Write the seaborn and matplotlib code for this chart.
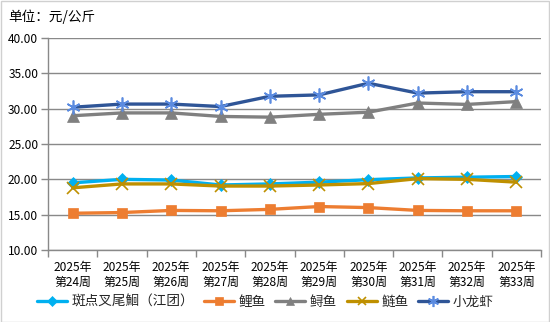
import matplotlib
matplotlib.use("Agg")
import matplotlib.pyplot as plt
import seaborn as sns
import pandas as pd
from matplotlib.patches import Rectangle

weeks = ["2025年\n第24周", "2025年\n第25周", "2025年\n第26周", "2025年\n第27周", "2025年\n第28周",
         "2025年\n第29周", "2025年\n第30周", "2025年\n第31周", "2025年\n第32周", "2025年\n第33周"]
s_channel = [19.5, 20.0, 19.9, 19.2, 19.35, 19.6, 19.95, 20.2, 20.3, 20.4]
s_carp = [15.2, 15.3, 15.6, 15.55, 15.75, 16.15, 16.0, 15.6, 15.55, 15.55]
s_sturgeon = [29.0, 29.4, 29.4, 28.9, 28.8, 29.2, 29.5, 30.8, 30.6, 31.0]
s_silver = [18.8, 19.35, 19.35, 19.05, 19.05, 19.2, 19.4, 20.1, 20.0, 19.6]
s_crayfish = [30.2, 30.65, 30.65, 30.3, 31.75, 31.95, 33.6, 32.2, 32.4, 32.4]

names = ["斑点叉尾鮰（江团）", "鲤鱼", "鲟鱼", "鲢鱼", "小龙虾"]
series = [s_channel, s_carp, s_sturgeon, s_silver, s_crayfish]
line_colors = ["#00B0F0", "#ED7D31", "#808080", "#BF9000", "#2F5597"]
marker_colors = ["#00B0F0", "#ED7D31", "#808080", "#BF9000", "#5B8BE0"]
markers = ["D", "s", "^", "x", (6, 2, 0)]
msizes = [6, 7, 8, 8, 10]

rows = []
for n, vals in zip(names, series):
    for i, v in enumerate(vals):
        rows.append({"周": i, "价格": v, "品种": n})
df = pd.DataFrame(rows)

sns.set_theme(style="white")
plt.rcParams["font.family"] = ["Noto Sans CJK SC", "DejaVu Sans"]

fig = plt.figure(figsize=(5.5, 3.22), dpi=100)
ax = fig.add_axes([48 / 550, 1 - 250 / 322, 493 / 550, 212 / 322])

for n, lc, mc, mk, ms in zip(names, line_colors, marker_colors, markers, msizes):
    sub = df[df["品种"] == n]
    sns.lineplot(data=sub, x="周", y="价格", ax=ax, color=lc, linewidth=2.4,
                 marker=mk, markersize=ms, markerfacecolor=mc, markeredgecolor=mc,
                 markeredgewidth=1.2 if mk in ("x", (6, 2, 0)) else 0.5, label=n)

ax.set_xlim(-0.5, 9.5)
ax.set_ylim(10, 40)
ax.set_yticks([10, 15, 20, 25, 30, 35, 40])
ax.set_yticklabels([f"{v:.2f}" for v in [10, 15, 20, 25, 30, 35, 40]], fontsize=8.6, color="#000000")
ax.set_xticks(range(10))
ax.set_xticklabels(weeks, fontsize=8.6, color="#000000", linespacing=1.15)
ax.set_xticks([i - 0.5 for i in range(11)], minor=True)
ax.tick_params(axis="x", which="major", length=0, pad=8)
ax.tick_params(axis="x", which="minor", length=5, color="#898989", width=1, direction="out", bottom=True)
ax.tick_params(axis="y", length=5, color="#898989", width=1, direction="out", left=True, pad=2)
ax.set_xlabel("")
ax.set_ylabel("")
ax.grid(axis="y", color="#898989", linewidth=1)
ax.grid(axis="x", visible=False)
for sp in ["top", "right"]:
    ax.spines[sp].set_visible(False)
for sp in ["left", "bottom"]:
    ax.spines[sp].set_color("#898989")
    ax.spines[sp].set_linewidth(1)

leg = ax.legend(loc="center", bbox_to_anchor=(0.5 - 29 / 493, -0.245), bbox_transform=ax.transAxes,
                ncol=5, frameon=False, fontsize=9.8, handlelength=2.2, columnspacing=0.7,
                handletextpad=0.35, markerscale=0.8)

fig.text(8 / 550, 1 - 17 / 322, "单位：元/公斤", fontsize=9.8, va="center", ha="left", color="#000000")
fig.add_artist(Rectangle((0.5 / 550, 0.5 / 322), 1 - 1.5 / 550, 1 - 1.5 / 322, transform=fig.transFigure,
                         fill=False, edgecolor="#D0D0D0", linewidth=1))

fig.savefig("out.png", dpi=100)
